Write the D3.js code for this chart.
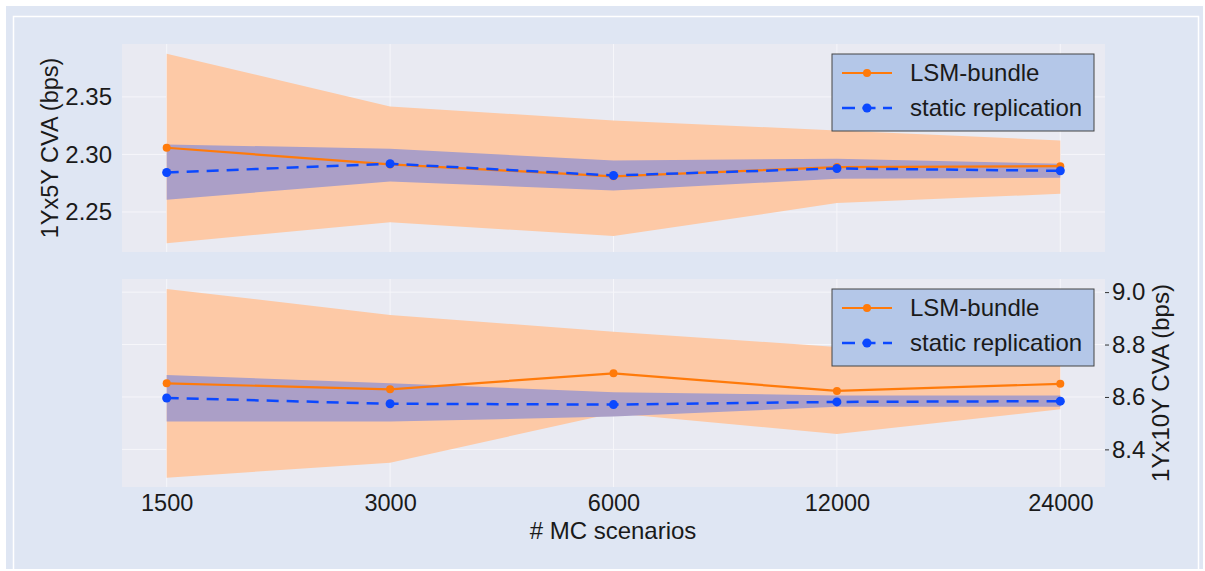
<!DOCTYPE html>
<html>
<head>
<meta charset="utf-8">
<script src="https://cdn.jsdelivr.net/npm/d3@7"></script>
<style>
  body { margin: 0; background: #fff; }
  text { font-family: "Liberation Sans", Arial, sans-serif; fill: #1a1a1a; }
</style>
</head>
<body>
<div id="chart"></div>
<script>
// MC scenario counts on the shared x axis
const scenarios = [1500, 3000, 6000, 12000, 24000];

// 1Yx5Y panel
const lsm5 = [2.3058, 2.2913, 2.2810, 2.2890, 2.2898];
const lsm5Lo = [2.2229, 2.2411, 2.2290, 2.2577, 2.2658];
const lsm5Hi = [2.3876, 2.3417, 2.3296, 2.3209, 2.3122];
const static5 = [2.2843, 2.2919, 2.2817, 2.2878, 2.2858];
const static5Lo = [2.2606, 2.2765, 2.2687, 2.2789, 2.2797];
const static5Hi = [2.3087, 2.3050, 2.2948, 2.2962, 2.2919];
const ticks5 = [2.25, 2.30, 2.35];

// 1Yx10Y panel
const lsm10 = [8.652, 8.629, 8.690, 8.623, 8.650];
const lsm10Lo = [8.292, 8.349, 8.538, 8.459, 8.553];
const lsm10Hi = [9.012, 8.913, 8.849, 8.791, 8.745];
const static10 = [8.596, 8.574, 8.571, 8.581, 8.584];
const static10Lo = [8.506, 8.506, 8.525, 8.563, 8.563];
const static10Hi = [8.684, 8.652, 8.618, 8.606, 8.606];
const ticks10 = [8.4, 8.6, 8.8, 9.0];

const seriesNames = ["LSM-bundle", "static replication"];

const W = 1205, H = 571;
const orange = "#ff7a0a", blue = "#0b48ff";
const orangeBand = "#fdc9a6", purpleBand = "#ab9fc7";
const FS = "24px";

const svg = d3.select("#chart").append("svg")
  .attr("width", W).attr("height", H);

// figure background and inner white frame
svg.append("rect").attr("x", 6).attr("y", 6).attr("width", 1197).attr("height", 563)
  .attr("fill", "#dfe6f3");
svg.append("rect").attr("x", 13.5).attr("y", 16.5).attr("width", 1185).attr("height", 560)
  .attr("fill", "none").attr("stroke", "#fff").attr("stroke-width", 1.5);

const x = d3.scalePoint().domain(scenarios).range([122, 1105]).padding(0.2);

function panel(top, bottom, domain, lsm, lsmLo, lsmHi, st, stLo, stHi, ticks, side) {
  const y = d3.scaleLinear().domain(domain).range([bottom, top]);
  const g = svg.append("g");

  g.append("rect").attr("x", 122).attr("y", top).attr("width", 1105 - 122)
    .attr("height", bottom - top).attr("fill", "#e9eaf2");

  // grid
  g.selectAll(".hg").data(ticks).join("line")
    .attr("x1", 122).attr("x2", 1105)
    .attr("y1", d => y(d)).attr("y2", d => y(d))
    .attr("stroke", "#f6f6fa").attr("stroke-width", 1);
  g.selectAll(".vg").data(scenarios).join("line")
    .attr("x1", d => x(d)).attr("x2", d => x(d))
    .attr("y1", top).attr("y2", bottom)
    .attr("stroke", "#f6f6fa").attr("stroke-width", 1);

  const idx = d3.range(scenarios.length);
  const area = (lo, hi) => d3.area()
    .x(i => x(scenarios[i])).y0(i => y(lo[i])).y1(i => y(hi[i]))(idx);
  const line = arr => d3.line().x(i => x(scenarios[i])).y(i => y(arr[i]))(idx);

  g.append("path").attr("d", area(lsmLo, lsmHi)).attr("fill", orangeBand);
  g.append("path").attr("d", area(stLo, stHi)).attr("fill", purpleBand);

  g.append("path").attr("d", line(lsm)).attr("fill", "none")
    .attr("stroke", orange).attr("stroke-width", 2.2);
  g.selectAll(".mo").data(idx).join("circle")
    .attr("cx", i => x(scenarios[i])).attr("cy", i => y(lsm[i]))
    .attr("r", 4).attr("fill", orange);

  g.append("path").attr("d", line(st)).attr("fill", "none")
    .attr("stroke", blue).attr("stroke-width", 2.5)
    .attr("stroke-dasharray", "12,8");
  g.selectAll(".mb").data(idx).join("circle")
    .attr("cx", i => x(scenarios[i])).attr("cy", i => y(st[i]))
    .attr("r", 4.5).attr("fill", blue);

  // y axis
  const ax = side === "left"
    ? d3.axisLeft(y).tickValues(ticks).tickFormat(d3.format(".2f")).tickSize(0).tickPadding(10)
    : d3.axisRight(y).tickValues(ticks).tickFormat(d3.format(".1f")).tickSize(4).tickPadding(3);
  const axG = g.append("g")
    .attr("transform", `translate(${side === "left" ? 122 : 1105},0)`)
    .call(ax);
  axG.select(".domain").remove();
  axG.selectAll(".tick line").attr("stroke", "#333");
  axG.selectAll("text").style("font-size", FS)
    .style("font-family", "'Liberation Sans', Arial, sans-serif").attr("fill", "#1a1a1a");

  // legend
  const lg = g.append("g").attr("transform", `translate(832,${top + 10})`);
  lg.append("rect").attr("width", 262).attr("height", 77)
    .attr("fill", "#b4c7e8").attr("stroke", "#444").attr("stroke-width", 1);
  seriesNames.forEach((name, k) => {
    const ry = 19 + k * 35;
    const row = lg.append("g").attr("transform", `translate(0,${ry})`);
    if (k === 0) {
      row.append("line").attr("x1", 10).attr("x2", 60).attr("stroke", orange).attr("stroke-width", 2.2);
      row.append("circle").attr("cx", 35).attr("r", 4).attr("fill", orange);
    } else {
      row.append("line").attr("x1", 10).attr("x2", 60).attr("stroke", blue).attr("stroke-width", 2.5)
        .attr("stroke-dasharray", "13,7.5");
      row.append("circle").attr("cx", 35).attr("r", 4.5).attr("fill", blue);
    }
    row.append("text").attr("x", 78).attr("dy", "0.35em")
      .style("font-size", FS).text(name);
  });
  return y;
}

panel(44, 252, [2.2152, 2.396], lsm5, lsm5Lo, lsm5Hi, static5, static5Lo, static5Hi, ticks5, "left");
panel(279, 487, [8.2565, 9.050], lsm10, lsm10Lo, lsm10Hi, static10, static10Lo, static10Hi, ticks10, "right");

// x axis
const xAx = svg.append("g").attr("transform", "translate(0,487)")
  .call(d3.axisBottom(x).tickSize(0).tickPadding(7));
xAx.select(".domain").remove();
xAx.selectAll("text").style("font-size", "23.5px")
  .style("font-family", "'Liberation Sans', Arial, sans-serif").attr("fill", "#1a1a1a");

svg.append("text").attr("x", 613).attr("y", 539).attr("text-anchor", "middle")
  .style("font-size", FS).text("# MC scenarios");

svg.append("text").attr("transform", "translate(50,148) rotate(-90)")
  .attr("text-anchor", "middle").attr("dy", "0.35em")
  .style("font-size", "23.5px").text("1Yx5Y CVA (bps)");

svg.append("text").attr("transform", "translate(1161,383) rotate(-90)")
  .attr("text-anchor", "middle").attr("dy", "0.35em")
  .style("font-size", FS).text("1Yx10Y CVA (bps)");
</script>
</body>
</html>
